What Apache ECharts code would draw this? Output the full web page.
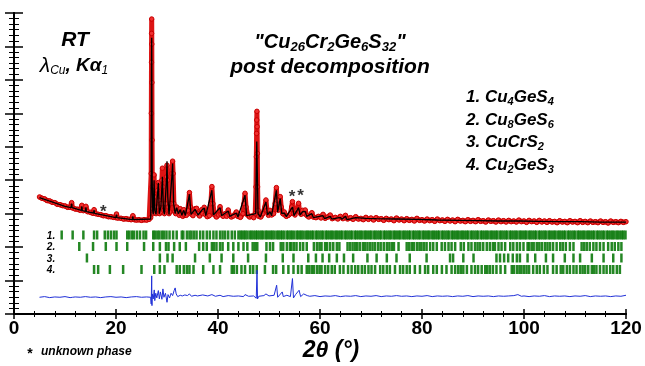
<!DOCTYPE html>
<html><head><meta charset="utf-8">
<script src="https://cdn.jsdelivr.net/npm/echarts@6/dist/echarts.min.js"></script>
<style>html,body{margin:0;padding:0;background:#fff}#c{width:645px;height:366px}</style>
</head><body><div id="c"></div>
<script>
// ---------------- data ----------------
const xTickLabels = ['0','20','40','60','80','100','120'];

// observed intensity (2theta, counts-like units)
const observed = [
[5.0,350],[5.5,346],[6.0,344],[6.5,339],[7.0,338],[7.5,334],[8.0,333],[8.5,328],[9.0,327],[9.5,324],[10.0,323],[10.5,319],[11.0,319],[11.3,333],[11.5,317],[12.0,314],[12.5,313],[13.0,310],[13.3,325],[13.6,309],[14.1,322],[14.4,306],[15.0,304],[15.5,301],[15.7,312],[16.0,300],[16.5,298],[17.0,297],[17.5,294],[18.0,294],[18.5,291],[19.0,291],[19.5,289],[20.0,288],[20.1,299],[20.3,287],[21.0,286],[21.5,284],[22.0,285],[22.5,283],[23.0,282],[23.3,294],[23.6,282],[24.0,281],[24.5,282],[25.0,280],[25.5,282],[26.0,281],[26.5,283],[26.8,288],
[26.9,420],[26.93,600],[26.96,753],[26.98,839],[27.0,882],[27.02,807],[27.04,692],[27.07,520],[27.12,380],[27.2,315],[27.3,300],[27.4,360],[27.47,416],[27.55,350],[27.7,305],[27.85,300],[28.0,320],[28.15,370],[28.3,393],[28.4,340],[28.55,300],[28.7,305],[28.85,330],[29.0,400],[29.1,436],[29.2,380],[29.35,310],[29.5,300],[29.7,330],[29.9,410],[30.0,445],[30.1,400],[30.25,320],[30.4,300],[30.55,305],[30.75,330],[30.95,420],[31.1,457],[31.2,420],[31.35,330],[31.5,305],[31.7,300],[31.9,320],[32.1,305],[32.4,295],[32.6,315],[32.8,298],[33.1,292],[33.3,312],[33.5,295],[33.8,295],[34.1,310],[34.4,363],[34.6,320],[34.8,298],[35.1,294],[35.5,315],[35.8,316],[36.0,300],[36.4,293],[36.8,312],[37.0,300],[37.3,319],[37.5,298],[37.9,291],[38.3,294],[38.6,330],[38.8,381],[39.0,330],[39.3,297],[39.7,290],[40.1,296],[40.4,321],[40.6,298],[41.0,292],[41.4,300],[41.7,292],[42.0,311],[42.2,296],[42.6,290],[43.0,293],[43.6,305],[43.9,292],[44.4,289],[44.9,300],[45.1,330],[45.3,361],[45.5,320],[45.8,296],[46.2,290],[46.6,293],[47.0,288],[47.3,300],[47.45,380],[47.52,470],[47.57,540],[47.6,580],[47.63,606],[47.67,560],[47.71,480],[47.76,380],[47.85,310],[48.0,292],[48.4,290],[48.8,300],[49.2,320],[49.4,341],[49.6,310],[49.9,295],[50.2,310],[50.5,296],[50.9,300],[51.2,330],[51.45,378],[51.6,340],[51.8,310],[52.0,320],[52.2,351],[52.4,320],[52.7,300],[53.0,305],[53.4,292],[53.8,295],[54.2,300],[54.45,320],[54.6,336],[54.8,300],[55.1,296],[55.5,310],[55.8,331],[56.0,305],[56.3,298],[56.6,310],[56.9,300],[57.1,311],[57.4,295],[57.8,290],[58.2,296],[58.4,303],[58.7,290],[59.2,288],[59.7,292],[60.2,287],[60.6,298],[61.0,286],[61.5,290],[62.0,296],[62.4,285],[63.0,289],[63.5,284],[64.0,292],[64.5,285],[65.0,295],[65.4,284],[66.0,288],[66.5,283],[67.0,291],[67.5,284],[68.0,286],[68.5,282],[69.0,289],[69.5,283],[70.0,287],[70.5,281],[71.0,288],[71.5,283],[72.0,285],[72.5,280],[73.0,286],[73.5,282],[74.0,284],[74.5,279],[75.0,287],[75.5,281],[76.0,284],[76.5,279],[77.0,285],[77.5,280],[78.0,283],[78.5,278],[79.0,286],[79.5,280],[80.0,282],[80.5,278],[81.0,284],[81.5,279],[82.0,282],[82.5,277],[83.0,284],[83.5,279],[84.0,281],[84.5,277],[85.0,283],[85.5,278],[86.0,281],[86.5,276],[87.0,283],[87.5,278],[88.0,280],[88.5,276],[89.0,282],[89.5,277],[90.0,280],[90.5,276],[91.0,282],[91.5,277],[92.0,279],[92.5,275],[93.0,281],[93.5,277],[94.0,279],[94.5,275],[95.0,281],[95.5,276],[96.0,279],[96.5,275],[97.0,280],[97.5,276],[98.0,278],[98.5,275],[99.0,281],[99.5,276],[100.0,278],[100.5,274],[101.0,280],[101.5,276],[102.0,278],[102.5,274],[103.0,280],[103.5,275],[104.0,278],[104.5,274],[105.0,279],[105.5,275],[106.0,277],[106.5,273],[107.0,279],[107.5,275],[108.0,277],[108.5,273],[109.0,279],[109.5,275],[110.0,277],[110.5,273],[111.0,279],[111.5,274],[112.0,277],[112.5,273],[113.0,278],[113.5,274],[114.0,276],[114.5,273],[115.0,278],[115.5,274],[116.0,276],[116.5,272],[117.0,278],[117.5,274],[118.0,276],[118.5,273],[119.0,277],[119.5,274],[120.0,276]
];

// calculated profile
const calculated = [
[5,348],[8,332],[10,322],[11.2,318],[11.3,330],[11.4,318],[13.2,310],[13.3,322],[13.4,309],[14.0,307],[14.1,319],[14.2,306],[15.6,302],[15.7,311],[15.8,301],[20.0,288],[20.1,297],[20.2,288],[23.2,282],[23.3,292],[23.4,282],[26.8,284],[26.9,400],[26.95,700],[27.0,826],[27.04,650],[27.1,400],[27.2,310],[27.3,298],[27.47,400],[27.6,310],[27.85,298],[28.3,392],[28.5,300],[28.8,320],[29.1,410],[29.3,310],[29.5,298],[29.9,400],[30.0,457],[30.15,350],[30.4,298],[30.95,410],[31.1,450],[31.3,330],[31.6,300],[31.9,318],[32.2,300],[32.6,312],[32.9,295],[33.3,310],[33.6,294],[34.4,358],[34.7,298],[35.5,313],[35.8,314],[36.1,296],[36.8,310],[37.3,317],[37.6,294],[38.8,370],[39.1,296],[40.4,318],[40.7,294],[42.0,308],[42.3,292],[43.6,302],[43.9,290],[45.3,355],[45.6,294],[47.4,300],[47.5,420],[47.6,516],[47.7,430],[47.85,300],[48.3,290],[49.4,335],[49.7,296],[50.2,306],[50.5,294],[51.45,370],[51.7,305],[52.2,345],[52.5,300],[53.0,302],[53.4,291],[54.6,320],[54.9,294],[55.8,318],[56.1,296],[56.6,306],[57.1,307],[57.4,292],[58.4,300],[58.7,288],[60.6,294],[60.9,285],[62.0,292],[62.3,284],[64.0,289],[64.3,283],[65.0,292],[65.3,282],[67.0,288],[69.0,286],[71.0,285],[75.0,284],[79.0,283],[83.0,281],[87.0,280],[91.0,279],[95.0,278],[99.0,278],[103.0,277],[107.0,276],[111.0,276],[115.0,275],[120.0,275]
];

// difference curve (offset)
const difference = [
[5,50],[6,52],[7,49],[8,51],[9,50],[10,52],[11,49],[11.3,54],[11.5,50],[12,51],[13,50],[14,52],[15,50],[16,51],[17,49],[18,51],[19,52],[20,50],[21,51],[22,49],[23,51],[24,52],[25,50],[26,51],[26.8,50],[26.9,30],[27.0,114],[27.05,25],[27.1,60],[27.3,45],[27.5,72],[27.6,40],[27.8,62],[28.0,48],[28.3,70],[28.5,45],[28.7,66],[29.0,44],[29.2,75],[29.4,50],[29.7,62],[30.0,35],[30.2,58],[30.5,48],[30.8,62],[31.1,55],[31.4,70],[31.6,78],[31.8,60],[32.1,52],[32.6,56],[33.0,54],[33.5,57],[34.0,55],[34.4,60],[34.8,53],[35.5,56],[36,54],[37,57],[38,54],[38.8,58],[39.5,53],[40.4,56],[41,52],[42,55],[43,53],[44,54],[45,52],[45.3,58],[46,53],[47,54],[47.5,47],[47.65,131],[47.75,45],[48,53],[49,55],[49.4,60],[50,54],[51,56],[51.5,86],[51.7,50],[52,55],[52.6,66],[52.8,52],[53.5,56],[54.2,52],[54.6,106],[54.8,48],[55.2,58],[55.9,71],[56.2,52],[56.8,60],[57.5,55],[58,53],[59,55],[60,52],[61,54],[62,53],[63,55],[64,52],[65,54],[66,53],[67,55],[68,52],[69,54],[70,53],[71,55],[72,52],[73,54],[74,53],[75,55],[76,53],[77,54],[78,52],[79,54],[80,53],[81,55],[82,52],[83,54],[84,53],[85,54],[86,52],[87,54],[88,53],[89,55],[90,52],[91,54],[92,53],[93,54],[94,52],[95,54],[96,53],[97,54],[98,55],[98.8,58],[99.5,53],[100,54],[101,52],[102,54],[103,53],[104,55],[105,52],[106,54],[107,53],[108,54],[109,52],[110,54],[111,53],[112,55],[113,52],[114,54],[115,53],[116,54],[117,52],[118,54],[119,53],[120,56]
];

// Bragg reflection positions (2theta) per phase
const phaseLabels = ['1.','2.','3.','4.'];
const bragg1 = [9.35,11.5,13.6,15.7,16.3,17.8,18.4,19.0,19.6,20.1,22.2,22.6,23.1,23.5,24.1,24.7,25.4,25.9,27.3,27.6,28.1,28.5,29.0,29.4,29.9,30.5,31.2,31.9,32.9,33.2,33.9,34.4,34.8,35.3,35.8,36.5,37.1,37.8,38.4,39.1,39.7,40.4,40.9,41.4,42.0,42.7,43.3,44.0,
44.4,44.7,45.1,45.4,45.8,46.3,46.6,47.0,47.4,47.7,48.1,48.5,48.8,49.3,49.6,50.0,50.4,50.7,51.1,51.6,51.9,52.3,52.6,53.0,53.5,53.8,54.2,54.5,54.9,55.4,55.7,56.1,56.4,56.8,57.3,57.6,58.0,58.4,58.7,59.2,59.5,59.9,60.3,60.6,61.1,61.4,61.8,62.2,62.5,63.0,63.3,63.7,64.1,64.4,64.9,65.2,65.6,66.0,66.3,66.8,67.1,67.5,67.9,68.2,68.7,69.0,69.4,69.8,70.1,70.6,70.9,71.3,71.7,72.0,72.5,72.8,73.2,73.6,73.9,74.4,74.7,75.1,75.5,75.8,76.3,76.6,77.0,77.4,77.7,78.2,78.5,78.9,79.3,79.6,80.1,80.4,80.8,81.2,81.5,82.0,82.3,82.7,83.1,83.4,83.9,84.2,84.6,85.0,85.3,85.8,86.1,86.5,86.9,87.2,87.7,88.0,88.4,88.8,89.1,89.6,89.9,90.3,90.7,91.0,91.5,91.8,92.2,92.6,92.9,93.4,93.7,94.1,94.5,94.8,95.3,95.6,96.0,96.4,96.7,97.2,97.5,97.9,98.3,98.6,99.1,99.4,99.8,100.2,100.5,101.0,101.3,101.7,102.1,102.4,102.9,103.2,103.6,104.0,104.3,104.8,105.1,105.5,105.9,106.2,106.7,107.0,107.4,107.8,108.1,108.6,108.9,109.3,109.7,110.0,110.5,110.8,111.2,111.6,111.9,112.4,112.7,113.1,113.5,113.8,114.3,114.6,115.0,115.4,115.7,116.2,116.5,116.9,117.3,117.6,118.1,118.4,118.8,119.2,119.5,119.9];
const bragg2 = [12.8,15.5,18.0,20.1,22.2,25.5,27.3,28.6,29.8,30.3,31.4,32.5,33.7,36.3,37.1,37.8,38.8,39.2,39.7,40.4,40.9,42.0,43.0,44.0,45.0,45.75,46.8,47.25,47.7,49.5,50.2,50.8,52.3,52.8,53.5,54.1,54.4,54.9,55.4,56.1,56.7,57.4,58.8,59.4,59.9,60.3,61.0,61.4,62.0,62.6,63.3,63.8,65.4,65.9,66.4,66.9,67.3,67.8,68.4,68.8,69.3,69.8,70.3,70.8,71.4,71.9,72.5,73.1,73.6,74.1,74.5,75.4,77.0,77.5,78.0,78.4,79.0,79.5,79.9,80.4,80.9,81.6,82.2,82.9,83.86,84.5,85.2,85.8,86.5,87.6,88.2,89.1,89.7,90.4,90.9,91.4,92.0,92.7,93.3,93.9,94.3,95.0,95.6,96.3,97.3,97.9,98.6,99.2,99.9,100.7,101.0,101.5,101.9,102.5,103.0,103.5,104.1,104.6,105.1,105.7,106.4,107.1,107.6,108.2,109.0,109.7,111.3,111.8,112.3,112.9,113.6,114.2,114.9,115.6,116.5,117.2,117.8,118.5,119.1];
const bragg3 = [14.3,28.6,30.1,31.1,35.5,38.4,40.7,43.0,45.9,49.4,52.7,54.8,57.7,59.2,60.5,61.8,63.3,64.7,66.5,69.3,71.1,73.1,75.0,77.6,80.9,85.5,86.1,88.1,90.1,94.6,95.3,96.1,96.9,97.8,98.6,99.2,100.7,102.2,104.3,105.7,108.0,109.7,111.0,113.3,115.6,117.5,119.1];
const bragg4 = [15.7,16.5,18.8,21.4,25.0,27.5,28.6,29.5,31.9,32.5,33.3,33.9,34.4,35.2,37.1,39.1,40.4,42.7,43.1,43.7,44.6,45.3,46.3,46.9,47.6,49.2,50.8,51.4,52.8,53.8,54.8,55.7,56.4,57.4,57.9,58.4,58.8,59.4,59.9,60.3,61.0,61.6,62.3,62.9,63.9,64.6,65.5,66.2,66.9,67.5,68.2,68.8,69.5,70.1,70.8,71.8,72.4,73.1,73.7,74.7,75.7,76.3,77.0,77.6,78.6,79.6,80.6,81.2,82.2,82.9,83.9,84.8,85.8,86.5,87.1,87.6,88.1,88.8,89.7,90.4,91.0,91.7,92.4,92.8,93.3,93.9,94.6,95.4,96.3,97.6,98.0,98.6,99.1,99.5,100.0,100.5,101.0,101.8,102.5,103.1,103.9,104.6,105.7,106.4,107.2,107.7,108.4,109.0,109.7,110.3,111.0,111.5,112.0,112.6,113.3,113.7,114.2,114.9,115.6,116.2,116.9,117.5,118.2,118.8];

// unknown-phase peaks marked with asterisks [2theta, intensity]
const unknownPeaks = [[17.5,316],[54.5,362],[56.2,364]];

// ---------------- chart ----------------
const FONT = '"Liberation Sans", Arial, sans-serif';
const braggRows = [bragg1, bragg2, bragg3, bragg4];
const chart = echarts.init(document.getElementById('c'), null, {renderer: 'canvas'});

const axisCommon = {
  axisLine: {show: true, lineStyle: {color: '#000', width: 2}},
  splitLine: {show: false},
};

function txt(x, y, text, font, align, rich) {
  return {
    type: 'text', x: x, y: y, z: 100,
    style: {
      text: text, font: font, fill: '#000',
      align: align || 'center', verticalAlign: 'middle',
      textAlign: align || 'center', textVerticalAlign: 'middle',
      rich: rich || undefined
    }
  };
}
const big = (size) => ({fontSize: size, fontWeight: 'bold', fontStyle: 'italic', fontFamily: FONT, lineHeight: size + 3, fill: '#000'});
const sub = (size, lh) => ({fontSize: size, fontWeight: 'bold', fontStyle: 'italic', fontFamily: FONT, lineHeight: lh, verticalAlign: 'bottom', fill: '#000'});

const graphics = [
  txt(75, 40, 'RT', 'italic bold 21px ' + FONT),
  txt(74, 66, '{l|λ}{s|Cu}{b|, Kα}{s|1}', 'italic bold 19px ' + FONT, 'center', {
    l: {fontSize: 21, fontStyle: 'italic', fontWeight: 'normal', fontFamily: FONT, lineHeight: 22, fill: '#000'},
    s: {fontSize: 12, fontStyle: 'italic', fontWeight: 'normal', fontFamily: FONT, lineHeight: 12, verticalAlign: 'bottom', fill: '#000'},
    b: {fontSize: 19, fontStyle: 'italic', fontWeight: 'bold', fontFamily: FONT, lineHeight: 22, fill: '#000'}
  }),
  txt(330, 42, '{b|"Cu}{s|26}{b|Cr}{s|2}{b|Ge}{s|6}{b|S}{s|32}{b|"}', 'italic bold 20px ' + FONT, 'center', {b: big(20), s: sub(13, 14)}),
  txt(330, 67, 'post decomposition', 'italic bold 21px ' + FONT),
  txt(466, 97, '{b|1. Cu}{s|4}{b|GeS}{s|4}', 'italic bold 17px ' + FONT, 'left', {b: big(17), s: sub(11, 12)}),
  txt(466, 120, '{b|2. Cu}{s|8}{b|GeS}{s|6}', 'italic bold 17px ' + FONT, 'left', {b: big(17), s: sub(11, 12)}),
  txt(466, 142, '{b|3. CuCrS}{s|2}', 'italic bold 17px ' + FONT, 'left', {b: big(17), s: sub(11, 12)}),
  txt(466, 165, '{b|4. Cu}{s|2}{b|GeS}{s|3}', 'italic bold 17px ' + FONT, 'left', {b: big(17), s: sub(11, 12)}),
  txt(331, 351, '2θ (°)', 'italic bold 23px ' + FONT),
  txt(30, 354, '*', 'bold 14px ' + FONT),
  txt(41, 352, 'unknown phase', 'italic bold 12px ' + FONT, 'left')
];
const rowY = [236, 247.5, 259, 270.5];
phaseLabels.forEach((lab, i) => graphics.push(txt(51, rowY[i], lab, 'italic bold 10px ' + FONT)));

const series = [];
braggRows.forEach((arr, i) => {
  series.push({
    type: 'scatter', xAxisIndex: 0, yAxisIndex: 2, z: 1,
    symbol: 'rect', symbolSize: [2.5, 9], silent: true,
    itemStyle: {color: '#0c7a0c', opacity: 0.9},
    data: arr.map(p => [p, i])
  });
});
series.push({
  type: 'line', name: 'diff', xAxisIndex: 0, yAxisIndex: 0, z: 2,
  symbol: 'none', data: difference,
  lineStyle: {color: '#2030d8', width: 1}
});
series.push({
  type: 'line', name: 'obs', xAxisIndex: 0, yAxisIndex: 0, z: 3,
  data: observed, showSymbol: true, showAllSymbol: true, symbol: 'circle', symbolSize: 4.5,
  itemStyle: {color: '#f03030', borderColor: '#c80000', borderWidth: 1},
  lineStyle: {color: '#dc1414', width: 5}
});
series.push({
  type: 'line', name: 'calc', xAxisIndex: 0, yAxisIndex: 0, z: 4,
  symbol: 'none', data: calculated,
  lineStyle: {color: '#000', width: 1.3}
});
series.push({
  type: 'scatter', xAxisIndex: 0, yAxisIndex: 0, z: 5,
  symbolSize: 0, data: unknownPeaks,
  label: {show: true, position: 'inside', formatter: '*', fontSize: 17, fontWeight: 'bold', fontFamily: FONT, color: '#000', offset: [0, 4]}
});

chart.setOption({
  animation: false,
  backgroundColor: '#fff',
  grid: {left: 14, right: 19, top: 13, bottom: 52, containLabel: false},
  xAxis: [
    Object.assign({}, axisCommon, {
      type: 'value', position: 'bottom', min: 0, max: 120, interval: 20,
      axisTick: {show: true, inside: true, length: 5, lineStyle: {color: '#000', width: 1.5}},
      minorTick: {show: true, splitNumber: 5, length: 3, lineStyle: {color: '#000', width: 1}},
      axisLabel: {show: true, margin: 5, color: '#000', fontSize: 19, fontWeight: 'bold', fontFamily: FONT,
        formatter: (v) => xTickLabels[Math.round(v / 20)]}
    }),
    Object.assign({}, axisCommon, {
      type: 'value', position: 'top', min: 0, max: 120, interval: 20,
      axisTick: {show: true, inside: true, length: 5, lineStyle: {color: '#000', width: 1.5}},
      minorTick: {show: true, splitNumber: 5, length: 3, lineStyle: {color: '#000', width: 1}},
      axisLabel: {show: false}
    })
  ],
  yAxis: [
    Object.assign({}, axisCommon, {
      type: 'value', position: 'left', min: 0, max: 900, interval: 100,
      axisTick: {show: true, inside: true, length: 9, lineStyle: {color: '#000', width: 1.5}},
      minorTick: {show: true, splitNumber: 6, length: 5, lineStyle: {color: '#000', width: 1}},
      axisLabel: {show: false}
    }),
    Object.assign({}, axisCommon, {
      type: 'value', position: 'right', min: 0, max: 900, interval: 100,
      axisTick: {show: true, inside: true, length: 9, lineStyle: {color: '#000', width: 1.5}},
      minorTick: {show: true, splitNumber: 6, length: 5, lineStyle: {color: '#000', width: 1}},
      axisLabel: {show: false}
    }),
    {
      type: 'value', show: false, inverse: true, min: -19.3, max: 6.87,
      axisLine: {show: false}, axisTick: {show: false}, axisLabel: {show: false}, splitLine: {show: false}
    }
  ],
  graphic: graphics,
  series: series
});
</script>
</body></html>
